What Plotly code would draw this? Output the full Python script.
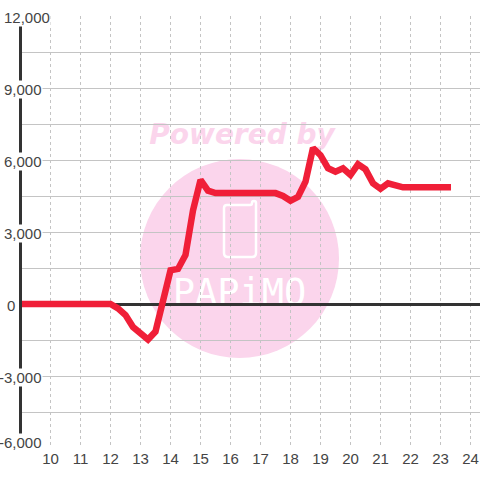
import plotly.graph_objects as go

hours = [8.88] + [9 + 0.25 * i for i in range(58)] + [23.35]
values = [0] * 12 + [0, -180, -460, -960, -1200, -1480, -1150, 250, 1400, 1460, 2040, 3900, 5170, 4720, 4620,
                     4620, 4620, 4620, 4620, 4620, 4620, 4620, 4620, 4500, 4300, 4460, 5100, 6500, 6200, 5660,
                     5510, 5650, 5375, 5820, 5610, 5030, 4800, 5030, 4960, 4860, 4860, 4860, 4860, 4860, 4860, 4860]
hours = hours[:1] + [h for h in hours[1:-1]][:len(values)] + hours[-1:]
values = [values[0]] + values + [values[-1]]
x_ticks = list(range(10, 25))
y_ticks = [12000, 9000, 6000, 3000, 0, -3000, -6000]
y_labels = ["12,000", "9,000", "6,000", "3,000", "0", "-3,000", "-6,000"]
y_label_right = [51, 43, 43, 43, 16, 43, 43]
y_label_shift = [0, 0, 0, 0, 0, 0, 7]

L, T, W, H = 22, 16, 458, 432
px = lambda v: (v - L) / W
py = lambda v: (T + H - v) / H

fig = go.Figure()
fig.add_trace(go.Scatter(x=hours, y=values, mode="lines", cliponaxis=False, hoverinfo="skip",
                         line=dict(color="#f01f38", width=6.5, shape="linear")))

phone = (f"M {px(227)} {py(205)} L {px(250)} {py(205)} Q {px(252)} {py(205)} {px(252)} {py(203)} "
         f"Q {px(252)} {py(201)} {px(254)} {py(201)} Q {px(256)} {py(201)} {px(256)} {py(203)} "
         f"L {px(256)} {py(253)} Q {px(256)} {py(257)} {px(252)} {py(257)} L {px(228)} {py(257)} "
         f"Q {px(224)} {py(257)} {px(224)} {py(253)} L {px(224)} {py(208)} Q {px(224)} {py(205)} {px(227)} {py(205)} Z")

shapes = [
    dict(type="circle", xref="paper", yref="paper", x0=px(140), x1=px(339), y0=py(358), y1=py(159),
         fillcolor="#fbd5ec", line_width=0, layer="below"),
    dict(type="path", xref="paper", yref="paper", path=phone,
         fillcolor="rgba(0,0,0,0)", line=dict(color="#ffffff", width=2.5), layer="below"),
    dict(type="rect", xref="paper", yref="paper", x0=px(130), x1=px(354), y0=py(147), y1=py(117),
         fillcolor="rgba(0,0,0,0)", line_width=0, layer="below",
         label=dict(text="<b><i>Powered by</i></b>", textposition="middle center",
                    font=dict(family="DejaVu Sans", size=28, color="#fbd5ec"))),
    dict(type="rect", xref="paper", yref="paper", x0=px(140), x1=px(339), y0=py(308), y1=py(270),
         fillcolor="rgba(0,0,0,0)", line_width=0, layer="below",
         label=dict(text="PAPiMO", textposition="middle center",
                    font=dict(family="DejaVu Sans Mono", size=37, color="#ffffff"))),
]
annotations = []
for v, t, r, s in zip(y_ticks, y_labels, y_label_right, y_label_shift):
    annotations.append(dict(xref="paper", yref="y", x=px(r), y=v, text=t, showarrow=False, xanchor="right",
                            yanchor="middle", bgcolor="#ffffff", borderpad=0, yshift=s - 1,
                            font=dict(family="Liberation Sans", size=15, color="#444444")))

fig.update_layout(
    width=480, height=480, autosize=False, showlegend=False,
    margin=dict(l=L, r=0, t=T, b=480 - T - H, pad=0),
    paper_bgcolor="#ffffff", plot_bgcolor="#ffffff",
    shapes=shapes, annotations=annotations,
    xaxis=dict(range=[10 + (L - 50.5) / 30, 10 + (480 - 50.5) / 30], tickvals=x_ticks, ticks="",
               showgrid=True, gridcolor="#c4c4c4", griddash="3px,3px", gridwidth=1, zeroline=False, showline=False,
               tickfont=dict(family="Liberation Sans", size=15, color="#444444")),
    yaxis=dict(range=[-6000, 12000], tickvals=[v * 1500 for v in range(-4, 9)], showticklabels=False, ticks="",
               showgrid=True, gridcolor="#c4c4c4", gridwidth=1, zeroline=True, zerolinecolor="#333333",
               zerolinewidth=3, showline=True, linecolor="#333333", linewidth=3),
)
fig.write_html("out.html", config={"displayModeBar": False},
               post_script="document.body.style.margin='0';document.documentElement.style.overflow='hidden';")
